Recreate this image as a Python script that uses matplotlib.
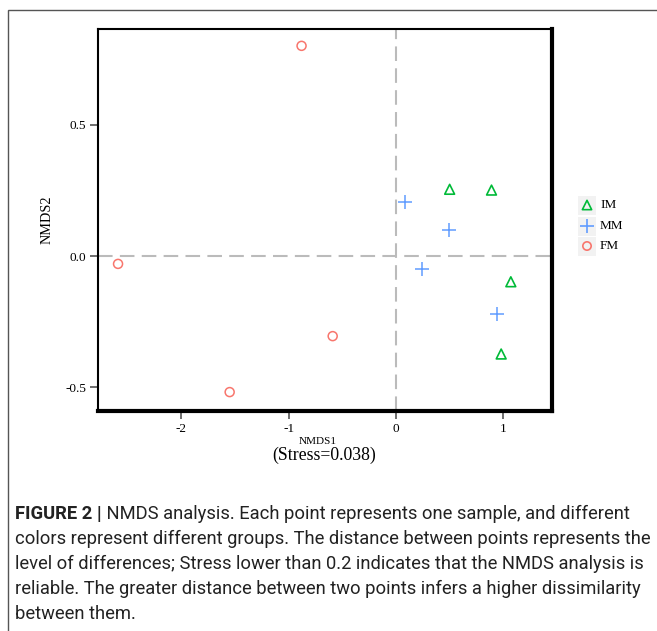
import matplotlib
matplotlib.use("Agg")
import matplotlib.pyplot as plt
from matplotlib.patches import Rectangle

# Data
groups = ["IM", "MM", "FM"]
im_x = [0.50, 0.89, 1.07, 0.98]
im_y = [0.254, 0.251, -0.098, -0.373]
mm_x = [0.08, 0.49, 0.24, 0.94]
mm_y = [0.204, 0.099, -0.051, -0.222]
fm_x = [-0.88, -2.59, -0.59, -1.55]
fm_y = [0.80, -0.03, -0.305, -0.518]
xticks = [-2, -1, 0, 1]
yticks = [-0.5, 0.0, 0.5]
ytick_labels = ["-0.5", "0.0", "0.5"]
stress = 0.038
caption_bold = "FIGURE 2 |"
caption_lines = [
    " NMDS analysis. Each point represents one sample, and different",
    "colors represent different groups. The distance between points represents the",
    "level of differences; Stress lower than 0.2 indicates that the NMDS analysis is",
    "reliable. The greater distance between two points infers a higher dissimilarity",
    "between them.",
]

col_im = "#00BA38"
col_mm = "#619CFF"
col_fm = "#F8766D"
serif = "Liberation Serif"

W, H = 657, 631
fig = plt.figure(figsize=(W / 100, H / 100), dpi=100)

# outer frame
fig.patches.append(Rectangle((8 / W, -0.1), 1.2, 1 - 10 / H + 0.1, transform=fig.transFigure,
                             fill=False, edgecolor="#555555", linewidth=1.0))

ax = fig.add_axes([98.3 / W, 1 - 411 / H, (551.5 - 98.3) / W, (411 - 29.3) / H])
ax.set_xlim(-2.774, 1.449)
ax.set_ylim(-0.590, 0.863)

ax.axhline(0, color="#bbbbbb", lw=1.5, dashes=(7, 3.5), zorder=1)
ax.axvline(0, color="#bbbbbb", lw=1.5, dashes=(7, 3.5), zorder=1)

ax.scatter(im_x, im_y, marker="^", s=50, facecolors="none", edgecolors=col_im, linewidths=1.2, zorder=3)
ax.scatter(mm_x, mm_y, marker="+", s=110, color=col_mm, linewidths=1.1, zorder=3)
ax.scatter(fm_x, fm_y, marker="o", s=42, facecolors="none", edgecolors=col_fm, linewidths=1.1, zorder=3)

for side in ["left", "top"]:
    ax.spines[side].set_linewidth(1.5)
for side in ["right", "bottom"]:
    ax.spines[side].set_linewidth(3.0)
for s in ax.spines.values():
    s.set_color("black")

ax.set_xticks(xticks)
ax.set_xticklabels([str(t) for t in xticks], fontfamily=serif, fontsize=9.5)
ax.set_yticks(yticks)
ax.set_yticklabels(ytick_labels, fontfamily=serif, fontsize=9.5)
ax.tick_params(direction="out", length=6, width=1.2, color="#555555", pad=2.5)

ax.set_ylabel("NMDS2", fontfamily=serif, fontsize=10.3, labelpad=9)
fig.text(318 / W, 1 - 442 / H, "NMDS1", fontfamily=serif, fontsize=8, ha="center", va="center")
fig.text(324.5 / W, 1 - 455 / H, f"(Stress={stress})", fontfamily=serif, fontsize=12.8, ha="center", va="center")

# legend
leg_y = [205, 226, 246]
markers = [("^", col_im, 45, True), ("+", col_mm, 100, False), ("o", col_fm, 36, True)]
lax = fig.add_axes([0, 0, 1, 1], facecolor="none")
lax.set_xlim(0, W)
lax.set_ylim(H, 0)
lax.axis("off")
for (m, c, s, hollow), yy, name in zip(markers, leg_y, groups):
    lax.add_patch(Rectangle((578, yy - 9.5), 18, 19, facecolor="#f2f2f2", edgecolor="none"))
    if hollow:
        lax.scatter([587], [yy], marker=m, s=s, facecolors="none", edgecolors=c, linewidths=1.2)
    else:
        lax.scatter([587], [yy], marker=m, s=s, color=c, linewidths=1.2)
    lax.text(600, yy, name, fontfamily=serif, fontsize=9.5, va="center", ha="left")

# caption
cap_font = "Roboto"
cap_size = 13.2
line_y = [514, 539, 564, 589, 614]
t0 = fig.text(15 / W, 1 - line_y[0] / H, caption_bold, fontfamily=cap_font, fontsize=cap_size,
              fontweight="bold", va="center", ha="left", color="#222222")
fig.canvas.draw()
bb = t0.get_window_extent(renderer=fig.canvas.get_renderer())
fig.text(bb.x1 / W, 1 - line_y[0] / H, caption_lines[0], fontfamily=cap_font, fontsize=cap_size,
         va="center", ha="left", color="#222222")
for yy, line in zip(line_y[1:], caption_lines[1:]):
    fig.text(15 / W, 1 - yy / H, line, fontfamily=cap_font, fontsize=cap_size,
             va="center", ha="left", color="#222222")

fig.savefig("out.png", dpi=100)
